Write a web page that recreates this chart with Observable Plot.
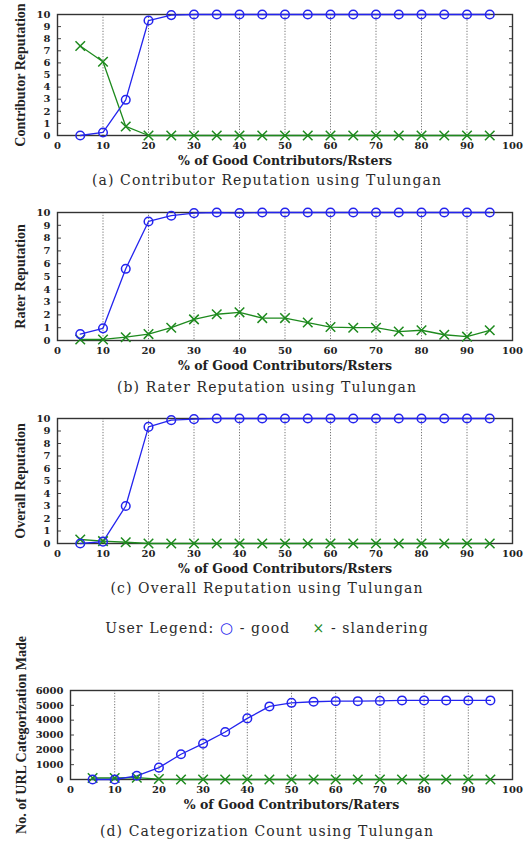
<!DOCTYPE html>
<html><head><meta charset="utf-8">
<script src="https://cdn.jsdelivr.net/npm/d3@7"></script>
<script src="https://cdn.jsdelivr.net/npm/@observablehq/plot@0.6"></script>
<style>
body{margin:0;background:#fff;}
#root{position:relative;width:526px;height:842px;overflow:hidden;background:#fff;}
.panel{position:absolute;left:0;}
.panel svg{background:transparent !important;}
.cap{position:absolute;left:0;width:534px;text-align:center;font-family:"DejaVu Serif";font-size:14px;letter-spacing:1.1px;color:#2a2a2a;z-index:2;line-height:16px;}
</style></head><body><div id="root"></div>
<script>
// ---- data ----
const pct = [5,10,15,20,25,30,35,40,45,50,55,60,65,70,75,80,85,90,95];
const contribGood = [0,0.25,2.95,9.5,9.95,10,10,10,10,10,10,10,10,10,10,10,10,10,10];
const contribSland = [7.4,6.1,0.75,0,0,0,0,0,0,0,0,0,0,0,0,0,0,0,0];
const raterGood = [0.5,0.95,5.6,9.3,9.75,9.95,10,9.95,10,10,10,10,10,10,10,10,10,10,10];
const raterSland = [0.08,0.08,0.26,0.5,1.0,1.65,2.05,2.2,1.75,1.75,1.4,1.05,1.0,1.0,0.7,0.8,0.45,0.3,0.8];
const overallGood = [0,0.15,3.0,9.33,9.87,9.95,10,10,10,10,10,10,10,10,10,10,10,10,10];
const overallSland = [0.32,0.19,0.1,0,0,0,0,0,0,0,0,0,0,0,0,0,0,0,0];
const countGood = [0,0,250,800,1700,2420,3200,4120,4925,5170,5240,5280,5280,5300,5330,5330,5330,5330,5330];
const countSland = [100,100,120,30,0,0,0,0,0,0,0,0,0,0,0,0,0,0,0];
const xTicks = [0,10,20,30,40,50,60,70,80,90,100];
const xGrid = [10,20,30,40,50,60,70,80,90];
const repTicks = [0,1,2,3,4,5,6,7,8,9,10];
const countTicks = [0,1000,2000,3000,4000,5000,6000];
const captions = ["(a) Contributor Reputation using Tulungan","(b) Rater Reputation using Tulungan","(c) Overall Reputation using Tulungan","(d) Categorization Count using Tulungan"];

const BLUE = "#2424ee", GREEN = "#1e8a1e";
const root = document.getElementById("root");
const noLabel = () => "";

function chart({top, height, marginTop, marginBottom, marginLeft, yDomain, yTicks, good, sland, ylabel, ylabelDx, xlabel}) {
  const rows = pct.map((p, i) => ({pct: p, good: good[i], sland: sland[i]}));
  const svg = Plot.plot({
    width: 526, height, marginTop, marginBottom, marginLeft, marginRight: 14,
    style: {fontFamily: "DejaVu Serif", fontSize: "10px", fontWeight: "bold", color: "#222", background: "transparent", overflow: "visible"},
    x: {domain: [0, 100]},
    y: {domain: yDomain},
    marks: [
      Plot.gridX(xGrid, {stroke: "#666", strokeOpacity: 0.9, strokeDasharray: "1.2,1.6"}),
      Plot.axisX(xTicks, {tickSize: 0, tickPadding: 6, label: null, fontWeight: "bold", tickFormat: d3.format("d")}),
      Plot.axisY(yTicks, {tickSize: 0, tickPadding: 7, label: null, fontWeight: "bold", tickFormat: d3.format("d")}),
      Plot.axisY(yTicks, {tickSize: -4, tickFormat: noLabel, label: null, stroke: "#444"}),
      Plot.axisY(yTicks, {anchor: "right", tickSize: -4, tickFormat: noLabel, label: null, stroke: "#444"}),
      Plot.frame({stroke: "#333", strokeWidth: 1.4}),
      Plot.line(rows, {x: "pct", y: "sland", stroke: GREEN, strokeWidth: 1.3}),
      Plot.line(rows, {x: "pct", y: "good", stroke: BLUE, strokeWidth: 1.3}),
      Plot.dot(rows, {x: "pct", y: "sland", symbol: "times", stroke: GREEN, r: 4.4, strokeWidth: 1.5}),
      Plot.dot(rows, {x: "pct", y: "good", symbol: "circle", stroke: BLUE, fill: "none", r: 4.3, strokeWidth: 1.5}),
      Plot.text([ylabel], {frameAnchor: "left", textAnchor: "middle", lineAnchor: "middle", rotate: -90, dx: ylabelDx, fontFamily: "Liberation Serif", fontSize: 14, fontWeight: "bold", fill: "#222"}),
      Plot.text([xlabel], {frameAnchor: "bottom", textAnchor: "middle", lineAnchor: "middle", dy: 25, fontFamily: "DejaVu Serif", fontSize: 12.5, fontWeight: "bold", fill: "#222"})
    ]
  });
  const div = document.createElement("div");
  div.className = "panel";
  div.style.top = top + "px";
  div.appendChild(svg);
  root.appendChild(div);
}

function caption(text, y) {
  const d = document.createElement("div");
  d.className = "cap";
  d.style.top = (y - 8) + "px";
  d.textContent = text;
  root.appendChild(d);
}

chart({top: 0, height: 168, marginTop: 14, marginBottom: 33, marginLeft: 57, yDomain: [0, 10], yTicks: repTicks,
  good: contribGood, sland: contribSland, ylabel: "Contributor Reputation", ylabelDx: -37, xlabel: "% of Good Contributors/Rsters"});
chart({top: 196, height: 177, marginTop: 16, marginBottom: 33, marginLeft: 57, yDomain: [0, 10], yTicks: repTicks,
  good: raterGood, sland: raterSland, ylabel: "Rater Reputation", ylabelDx: -37, xlabel: "% of Good Contributors/Rsters"});
chart({top: 402, height: 174, marginTop: 16, marginBottom: 33, marginLeft: 57, yDomain: [0, 10], yTicks: repTicks,
  good: overallGood, sland: overallSland, ylabel: "Overall Reputation", ylabelDx: -37, xlabel: "% of Good Contributors/Rsters"});
chart({top: 636, height: 193, marginTop: 54, marginBottom: 50, marginLeft: 70, yDomain: [0, 6000], yTicks: countTicks,
  good: countGood, sland: countSland, ylabel: "No. of URL Categorization Made", ylabelDx: -49, xlabel: "% of Good Contributors/Raters"});

caption(captions[0], 180);
caption(captions[1], 387);
caption(captions[2], 588);
caption(captions[3], 831);

const leg = document.createElement("div");
leg.className = "cap";
leg.style.top = (628 - 8) + "px";
leg.innerHTML = 'User Legend: <span style="color:' + BLUE + ';font-size:15px">○</span> - good &nbsp;&nbsp; <span style="color:' + GREEN + '">×</span> - slandering';
root.appendChild(leg);
</script>
</body></html>
